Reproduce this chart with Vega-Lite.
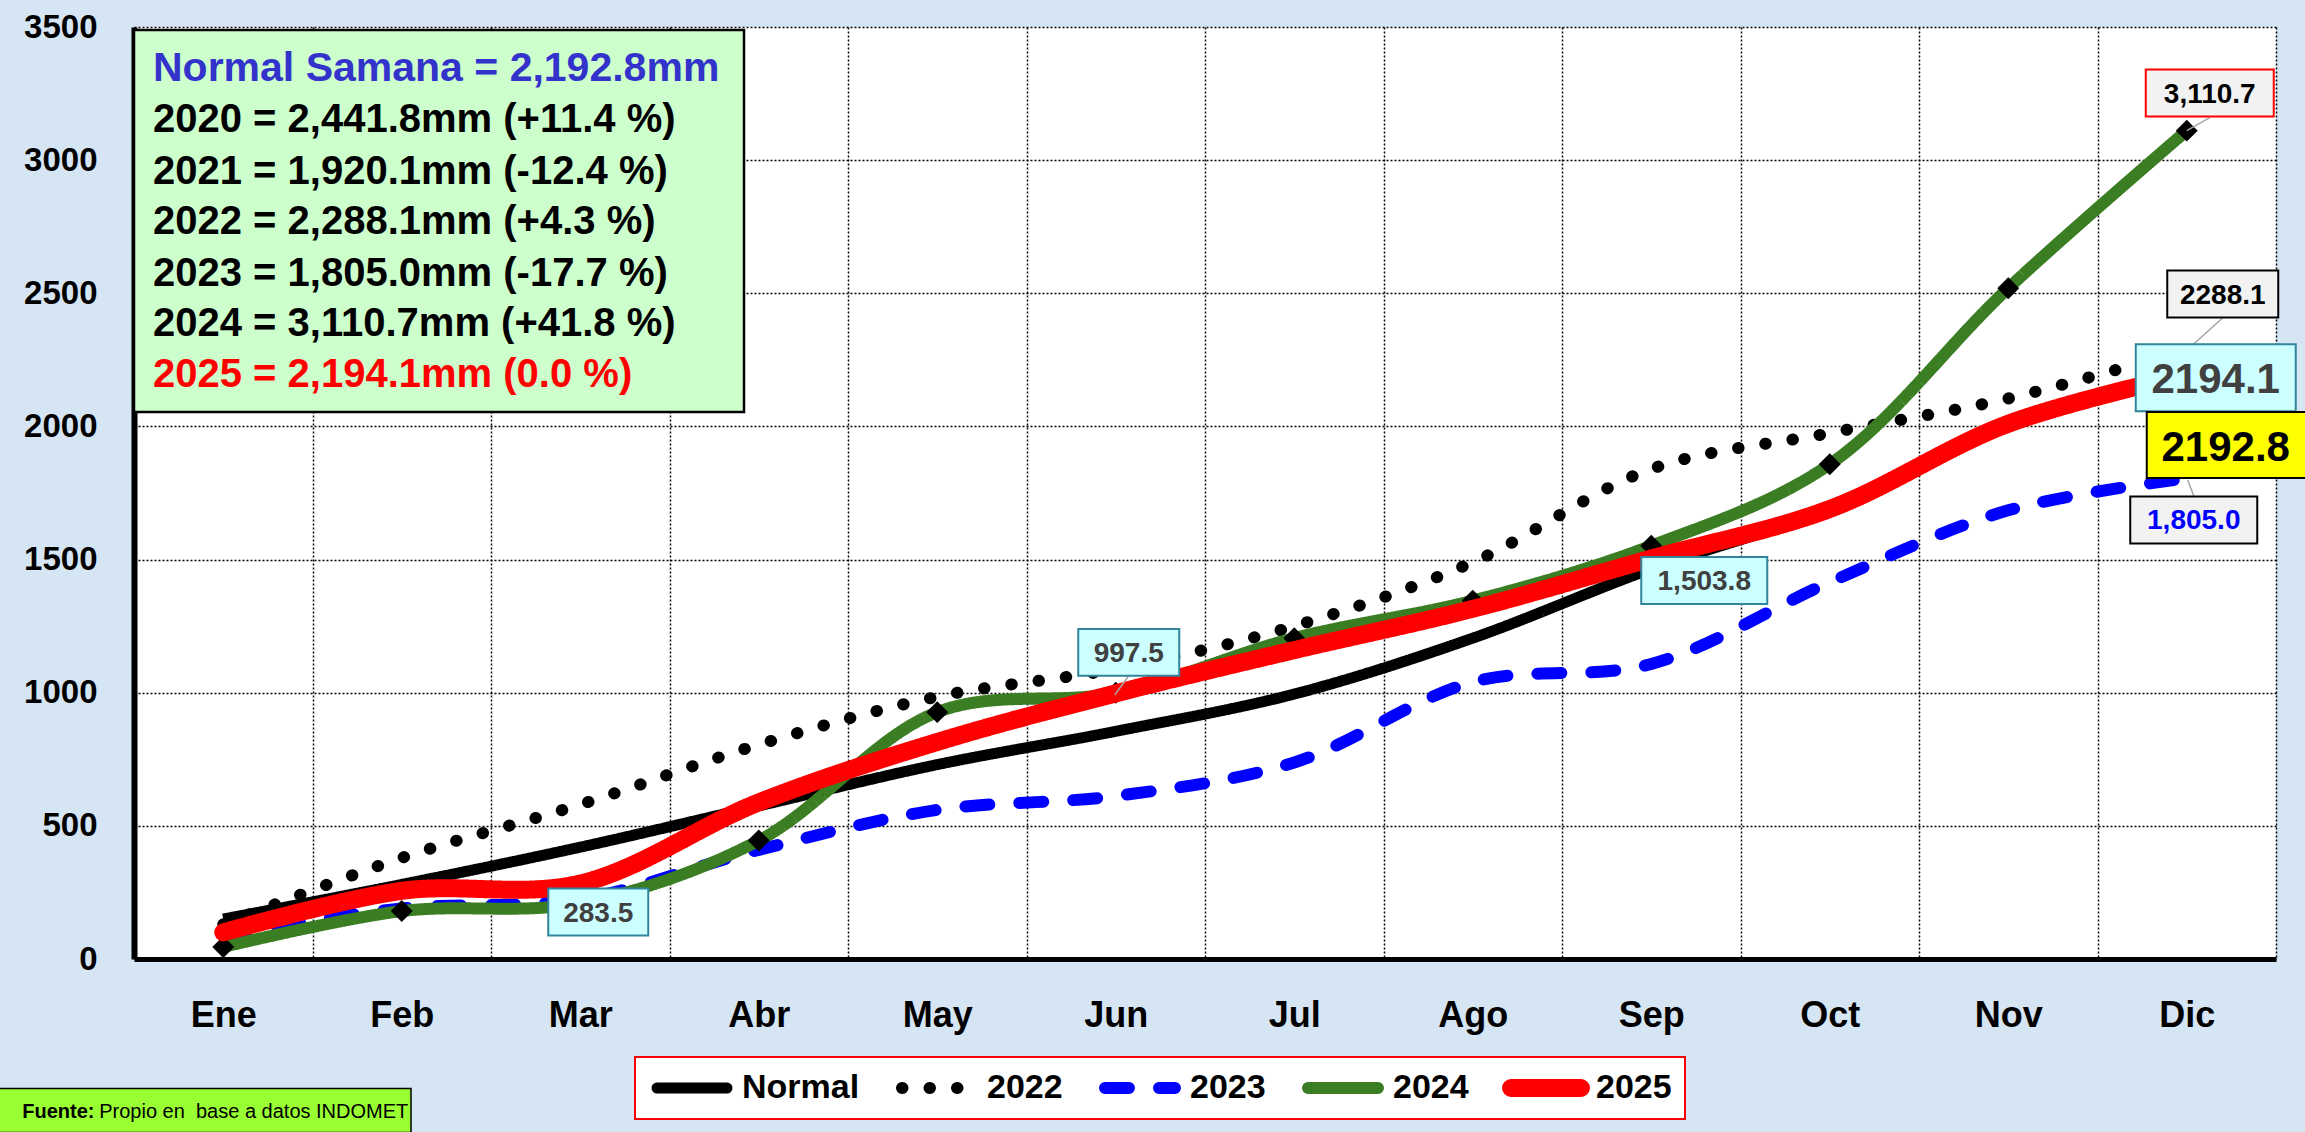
{
  "$schema": "https://vega.github.io/schema/vega-lite/v6.json",
  "width": 2142,
  "height": 932,
  "autosize": {"type": "none"},
  "padding": {"left": 134, "top": 27, "right": 29, "bottom": 173},
  "background": "#d6e5f4",
  "config": {
    "font": "Liberation Sans",
    "view": {"fill": "white", "stroke": null}
  },
  "datasets": {
    "lluvia": [
      {"mes": "Ene", "serie": "Normal", "mm": 150}, {"mes": "Feb", "serie": "Normal", "mm": 280}, {"mes": "Mar", "serie": "Normal", "mm": 420}, {"mes": "Abr", "serie": "Normal", "mm": 575}, {"mes": "May", "serie": "Normal", "mm": 730}, {"mes": "Jun", "serie": "Normal", "mm": 855}, {"mes": "Jul", "serie": "Normal", "mm": 995}, {"mes": "Ago", "serie": "Normal", "mm": 1205}, {"mes": "Sep", "serie": "Normal", "mm": 1465}, {"mes": "Oct", "serie": "Normal", "mm": 1690}, {"mes": "Nov", "serie": "Normal", "mm": 2000}, {"mes": "Dic", "serie": "Normal", "mm": 2192.8},
      {"mes": "Ene", "serie": "2022", "mm": 130}, {"mes": "Feb", "serie": "2022", "mm": 380}, {"mes": "Mar", "serie": "2022", "mm": 580}, {"mes": "Abr", "serie": "2022", "mm": 805}, {"mes": "May", "serie": "2022", "mm": 985}, {"mes": "Jun", "serie": "2022", "mm": 1090}, {"mes": "Jul", "serie": "2022", "mm": 1250}, {"mes": "Ago", "serie": "2022", "mm": 1490}, {"mes": "Sep", "serie": "2022", "mm": 1840}, {"mes": "Oct", "serie": "2022", "mm": 1975}, {"mes": "Nov", "serie": "2022", "mm": 2105}, {"mes": "Dic", "serie": "2022", "mm": 2288.1},
      {"mes": "Ene", "serie": "2023", "mm": 90}, {"mes": "Feb", "serie": "2023", "mm": 190}, {"mes": "Mar", "serie": "2023", "mm": 225}, {"mes": "Abr", "serie": "2023", "mm": 410}, {"mes": "May", "serie": "2023", "mm": 560}, {"mes": "Jun", "serie": "2023", "mm": 612}, {"mes": "Jul", "serie": "2023", "mm": 738}, {"mes": "Ago", "serie": "2023", "mm": 1040}, {"mes": "Sep", "serie": "2023", "mm": 1108}, {"mes": "Oct", "serie": "2023", "mm": 1415}, {"mes": "Nov", "serie": "2023", "mm": 1685}, {"mes": "Dic", "serie": "2023", "mm": 1805.0},
      {"mes": "Ene", "serie": "2024", "mm": 45}, {"mes": "Feb", "serie": "2024", "mm": 180}, {"mes": "Mar", "serie": "2024", "mm": 210}, {"mes": "Abr", "serie": "2024", "mm": 445}, {"mes": "May", "serie": "2024", "mm": 927}, {"mes": "Jun", "serie": "2024", "mm": 1000}, {"mes": "Jul", "serie": "2024", "mm": 1205}, {"mes": "Ago", "serie": "2024", "mm": 1346}, {"mes": "Sep", "serie": "2024", "mm": 1552}, {"mes": "Oct", "serie": "2024", "mm": 1858}, {"mes": "Nov", "serie": "2024", "mm": 2519}, {"mes": "Dic", "serie": "2024", "mm": 3110.7},
      {"mes": "Ene", "serie": "2025", "mm": 100}, {"mes": "Feb", "serie": "2025", "mm": 256}, {"mes": "Mar", "serie": "2025", "mm": 283.5}, {"mes": "Abr", "serie": "2025", "mm": 588}, {"mes": "May", "serie": "2025", "mm": 815}, {"mes": "Jun", "serie": "2025", "mm": 997.5}, {"mes": "Jul", "serie": "2025", "mm": 1160}, {"mes": "Ago", "serie": "2025", "mm": 1315}, {"mes": "Sep", "serie": "2025", "mm": 1503.8}, {"mes": "Oct", "serie": "2025", "mm": 1690}, {"mes": "Nov", "serie": "2025", "mm": 2010}, {"mes": "Dic", "serie": "2025", "mm": 2194.1}
    ]
  },
  "layer": [
    {
      "data": {"name": "lluvia"},
      "encoding": {
        "x": {
          "field": "mes", "type": "ordinal", "bandPosition": 0.5,
          "scale": {"type": "band", "domain": ["Ene", "Feb", "Mar", "Abr", "May", "Jun", "Jul", "Ago", "Sep", "Oct", "Nov", "Dic"], "paddingInner": 0, "paddingOuter": 0},
          "axis": {"title": null, "tickBand": "extent", "grid": true, "gridColor": "black", "gridDash": [2, 2], "gridWidth": 1.5, "ticks": false, "tickSize": 0, "domainColor": "black", "domainWidth": 5, "labelFont": "Liberation Sans", "labelFontWeight": "bold", "labelFontSize": 36, "labelColor": "black", "labelPadding": 39, "labelAngle": 0}
        },
        "y": {
          "field": "mm", "type": "quantitative",
          "scale": {"domain": [0, 3500], "nice": false},
          "axis": {"title": null, "format": "d", "values": [0, 500, 1000, 1500, 2000, 2500, 3000, 3500], "grid": true, "gridColor": "black", "gridDash": [2, 2], "gridWidth": 1.5, "ticks": false, "tickSize": 0, "domainColor": "black", "domainWidth": 6, "labelFont": "Liberation Sans", "labelFontWeight": "bold", "labelFontSize": 33, "labelColor": "black", "labelPadding": 37}
        },
        "color": {
          "field": "serie", "type": "nominal",
          "scale": {"domain": ["Normal", "2022", "2023", "2024", "2025"], "range": ["#000000", "#000000", "#0000ff", "#3b7d23", "#ff0000"]},
          "legend": {"title": null, "orient": "none", "legendX": 501, "legendY": 1030, "direction": "horizontal", "columns": 5, "fillColor": "white", "strokeColor": "#ff0000", "padding": 13, "clipHeight": 36, "symbolType": "stroke", "symbolSize": 4900, "labelFont": "Liberation Sans", "labelFontSize": 34, "labelFontWeight": "bold", "labelColor": "black", "labelOffset": 6, "columnPadding": 33, "encode": {"symbols": {"update": {"strokeCap": {"value": "round"}}}, "legend": {"update": {"strokeWidth": {"value": 2}}}}}
        },
        "strokeDash": {
          "field": "serie", "type": "nominal",
          "scale": {"domain": ["Normal", "2022", "2023", "2024", "2025"], "range": [[1, 0], [0.5, 27], [24, 30], [1, 0], [1, 0]]}
        },
        "strokeWidth": {
          "field": "serie", "type": "nominal",
          "scale": {"type": "ordinal", "domain": ["Normal", "2022", "2023", "2024", "2025"], "range": [11, 12, 12, 12, 18]}
        }
      },
      "layer": [
        {"transform": [{"filter": {"field": "serie", "equal": "Normal"}}], "mark": {"type": "line", "interpolate": "catmull-rom", "strokeCap": "butt", "strokeJoin": "round"}},
        {"transform": [{"filter": {"field": "serie", "equal": "2022"}}], "mark": {"type": "line", "interpolate": "catmull-rom", "strokeCap": "round", "strokeJoin": "round"}},
        {"transform": [{"filter": {"field": "serie", "equal": "2023"}}], "mark": {"type": "line", "interpolate": "catmull-rom", "strokeCap": "round", "strokeJoin": "round"}},
        {"transform": [{"filter": {"field": "serie", "equal": "2024"}}], "mark": {"type": "line", "interpolate": "catmull-rom", "strokeCap": "butt", "strokeJoin": "round"}},
        {"transform": [{"filter": {"field": "serie", "equal": "2024"}}], "mark": {"type": "point", "shape": "diamond", "filled": true, "size": 480, "opacity": 1}, "encoding": {"color": {"value": "black"}, "strokeWidth": {"value": 0}, "strokeDash": {"value": [1, 0]}}},
        {"transform": [{"filter": {"field": "serie", "equal": "2025"}}], "mark": {"type": "line", "interpolate": "catmull-rom", "strokeCap": "round", "strokeJoin": "round"}}
      ]
    },
    {
      "data": {"values": [{}]},
      "encoding": {"x": {"datum": "Feb", "type": "ordinal", "bandPosition": 0.5}, "y": {"datum": 3500, "type": "quantitative"}},
      "layer": [
        {"mark": {"type": "point", "shape": "M-1,-0.6262H1V0.6262H-1Z", "size": 372100, "filled": true, "fill": "#ccffcc", "stroke": "black", "strokeWidth": 2.5, "opacity": 1, "xOffset": 37.25, "yOffset": 194}},
        {"mark": {"type": "text", "text": "Normal Samana = 2,192.8mm", "font": "Liberation Sans", "fontWeight": "bold", "fontSize": 41, "color": "#3333cc", "align": "left", "baseline": "middle", "xOffset": -248.75, "yOffset": 42}},
        {"mark": {"type": "text", "text": "2020 = 2,441.8mm (+11.4 %)", "font": "Liberation Sans", "fontWeight": "bold", "fontSize": 40, "color": "black", "align": "left", "baseline": "middle", "xOffset": -248.75, "yOffset": 93}},
        {"mark": {"type": "text", "text": "2021 = 1,920.1mm (-12.4 %)", "font": "Liberation Sans", "fontWeight": "bold", "fontSize": 40, "color": "black", "align": "left", "baseline": "middle", "xOffset": -248.75, "yOffset": 145}},
        {"mark": {"type": "text", "text": "2022 = 2,288.1mm (+4.3 %)", "font": "Liberation Sans", "fontWeight": "bold", "fontSize": 40, "color": "black", "align": "left", "baseline": "middle", "xOffset": -248.75, "yOffset": 195}},
        {"mark": {"type": "text", "text": "2023 = 1,805.0mm (-17.7 %)", "font": "Liberation Sans", "fontWeight": "bold", "fontSize": 40, "color": "black", "align": "left", "baseline": "middle", "xOffset": -248.75, "yOffset": 247}},
        {"mark": {"type": "text", "text": "2024 = 3,110.7mm (+41.8 %)", "font": "Liberation Sans", "fontWeight": "bold", "fontSize": 40, "color": "black", "align": "left", "baseline": "middle", "xOffset": -248.75, "yOffset": 297}},
        {"mark": {"type": "text", "text": "2025 = 2,194.1mm (0.0 %)", "font": "Liberation Sans", "fontWeight": "bold", "fontSize": 40, "color": "#ff0000", "align": "left", "baseline": "middle", "xOffset": -248.75, "yOffset": 348}}
      ]
    },
    {
      "data": {"values": [{}]},
      "encoding": {"x": {"datum": "Mar", "type": "ordinal", "bandPosition": 0.5}, "y": {"datum": 283.5, "type": "quantitative"}},
      "layer": [
        {"mark": {"type": "point", "shape": "M-1,-0.47H1V0.47H-1Z", "size": 10000, "filled": true, "fill": "#ccffff", "stroke": "#31849b", "strokeWidth": 2, "opacity": 1, "xOffset": 18, "yOffset": 28.5}},
        {"mark": {"type": "text", "text": "283.5", "fontWeight": "bold", "fontSize": 28, "color": "#404040", "align": "center", "baseline": "middle", "xOffset": 18, "yOffset": 30}}
      ]
    },
    {
      "data": {"values": [{}]},
      "encoding": {"x": {"datum": "Jun", "type": "ordinal", "bandPosition": 0.5}, "y": {"datum": 997.5, "type": "quantitative"}},
      "layer": [
        {"mark": {"type": "point", "shape": "M-0.01,0.016L0.13,-0.176", "size": 40000, "filled": false, "stroke": "#a6a6a6", "strokeWidth": 1.5, "opacity": 1}},
        {"mark": {"type": "point", "shape": "M-1,-0.465H1V0.465H-1Z", "size": 10201, "filled": true, "fill": "#ccffff", "stroke": "#31849b", "strokeWidth": 2, "opacity": 1, "xOffset": 13, "yOffset": -41}},
        {"mark": {"type": "text", "text": "997.5", "fontWeight": "bold", "fontSize": 28, "color": "#404040", "align": "center", "baseline": "middle", "xOffset": 13, "yOffset": -39.5}}
      ]
    },
    {
      "data": {"values": [{}]},
      "encoding": {"x": {"datum": "Sep", "type": "ordinal", "bandPosition": 0.5}, "y": {"datum": 1503.8, "type": "quantitative"}},
      "layer": [
        {"mark": {"type": "point", "shape": "M-1,-0.373H1V0.373H-1Z", "size": 15876, "filled": true, "fill": "#ccffff", "stroke": "#31849b", "strokeWidth": 2, "opacity": 1, "xOffset": 53, "yOffset": 22}},
        {"mark": {"type": "text", "text": "1,503.8", "fontWeight": "bold", "fontSize": 28, "color": "#404040", "align": "center", "baseline": "middle", "xOffset": 53, "yOffset": 23.5}}
      ]
    },
    {
      "data": {"values": [{}]},
      "encoding": {"x": {"datum": "Dic", "type": "ordinal", "bandPosition": 0.5}, "y": {"datum": 3110.7, "type": "quantitative"}},
      "layer": [
        {"mark": {"type": "point", "shape": "M0,0L0.23,-0.13", "size": 40000, "filled": false, "stroke": "#a6a6a6", "strokeWidth": 1.5, "opacity": 1}},
        {"mark": {"type": "point", "shape": "M-1,-0.367H1V0.367H-1Z", "size": 16384, "filled": true, "fill": "#f2f2f2", "stroke": "#ff0000", "strokeWidth": 2, "opacity": 1, "xOffset": 23, "yOffset": -37.6}},
        {"mark": {"type": "text", "text": "3,110.7", "fontWeight": "bold", "fontSize": 28, "color": "black", "align": "center", "baseline": "middle", "xOffset": 23, "yOffset": -36}}
      ]
    },
    {
      "data": {"values": [{}]},
      "encoding": {"x": {"datum": "Dic", "type": "ordinal", "bandPosition": 0.5}, "y": {"datum": 2288.1, "type": "quantitative"}},
      "layer": [
        {"mark": {"type": "point", "shape": "M0.07,-0.057L0.36,-0.32", "size": 40000, "filled": false, "stroke": "#a6a6a6", "strokeWidth": 1.5, "opacity": 1}},
        {"mark": {"type": "point", "shape": "M-1,-0.4234H1V0.4234H-1Z", "size": 12321, "filled": true, "fill": "#f2f2f2", "stroke": "black", "strokeWidth": 2, "opacity": 1, "xOffset": 36, "yOffset": -55.7}},
        {"mark": {"type": "text", "text": "2288.1", "fontWeight": "bold", "fontSize": 28, "color": "black", "align": "center", "baseline": "middle", "xOffset": 36, "yOffset": -54}}
      ]
    },
    {
      "data": {"values": [{}]},
      "encoding": {"x": {"datum": "Dic", "type": "ordinal", "bandPosition": 0.5}, "y": {"datum": 1805.0, "type": "quantitative"}},
      "layer": [
        {"mark": {"type": "point", "shape": "M0.01,0.016L0.07,0.176", "size": 40000, "filled": false, "stroke": "#a6a6a6", "strokeWidth": 1.5, "opacity": 1}},
        {"mark": {"type": "point", "shape": "M-1,-0.37H1V0.37H-1Z", "size": 16129, "filled": true, "fill": "#f2f2f2", "stroke": "black", "strokeWidth": 2, "opacity": 1, "xOffset": 7, "yOffset": 41.6}},
        {"mark": {"type": "text", "text": "1,805.0", "fontWeight": "bold", "fontSize": 28, "color": "#0000ff", "align": "center", "baseline": "middle", "xOffset": 7, "yOffset": 43}}
      ]
    },
    {
      "data": {"values": [{}]},
      "encoding": {"x": {"datum": "Dic", "type": "ordinal", "bandPosition": 0.5}, "y": {"datum": 2194.1, "type": "quantitative"}},
      "layer": [
        {"mark": {"type": "point", "shape": "M-1,-0.41875H1V0.41875H-1Z", "size": 25600, "filled": true, "fill": "#ccffff", "stroke": "#31849b", "strokeWidth": 2, "opacity": 1, "xOffset": 29, "yOffset": 3}},
        {"mark": {"type": "text", "text": "2194.1", "fontWeight": "bold", "fontSize": 42, "color": "#404040", "align": "center", "baseline": "middle", "xOffset": 29, "yOffset": 5.5}}
      ]
    },
    {
      "data": {"values": [{}]},
      "encoding": {"x": {"datum": "Dic", "type": "ordinal", "bandPosition": 0.5}, "y": {"datum": 2192.8, "type": "quantitative"}},
      "layer": [
        {"mark": {"type": "point", "shape": "M-1,-0.4074H1V0.4074H-1Z", "size": 26244, "filled": true, "fill": "#ffff00", "stroke": "black", "strokeWidth": 2, "opacity": 1, "xOffset": 41, "yOffset": 70}},
        {"mark": {"type": "text", "text": "2192.8", "fontWeight": "bold", "fontSize": 42, "color": "black", "align": "center", "baseline": "middle", "xOffset": 39, "yOffset": 72.5}}
      ]
    },
    {
      "data": {"values": [{}]},
      "encoding": {"x": {"datum": "Ene", "type": "ordinal", "bandPosition": 0.5}, "y": {"datum": 0, "type": "quantitative"}},
      "layer": [
        {"mark": {"type": "point", "shape": "M-1,-0.1068H1V0.1068H-1Z", "size": 169744, "filled": true, "fill": "#99ff33", "stroke": "black", "strokeWidth": 1.5, "opacity": 1, "xOffset": -18.25, "yOffset": 151.5}},
        {"mark": {"type": "text", "text": "Fuente:", "fontWeight": "bold", "fontSize": 20, "color": "black", "align": "left", "baseline": "middle", "xOffset": -201, "yOffset": 153}},
        {"mark": {"type": "text", "text": "Propio en\u00a0 base a datos INDOMET", "fontWeight": "normal", "fontSize": 20, "color": "black", "align": "left", "baseline": "middle", "xOffset": -124, "yOffset": 153}}
      ]
    }
  ]
}
